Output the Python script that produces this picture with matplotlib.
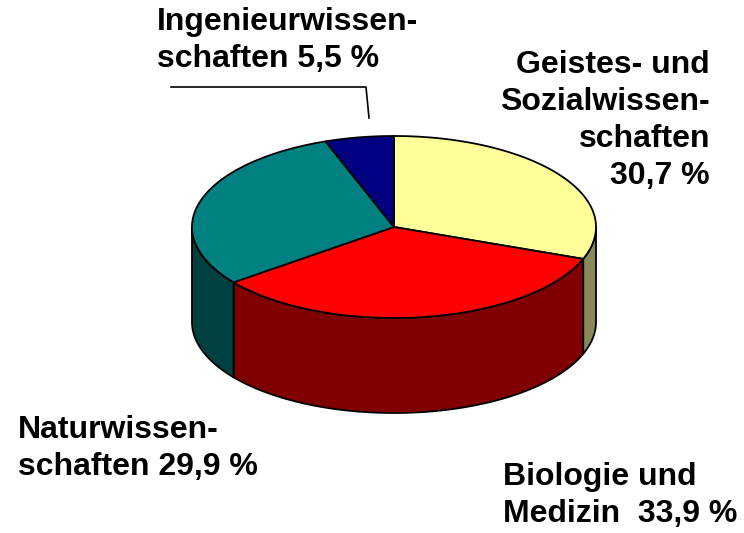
import numpy as np
import matplotlib.pyplot as plt
from matplotlib.patches import Polygon

labels = ["Geistes- und\nSozialwissen-\nschaften\n30,7 %",
          "Biologie und\nMedizin  33,9 %",
          "Naturwissen-\nschaften 29,9 %",
          "Ingenieurwissen-\nschaften 5,5 %"]
shares = [30.7, 33.9, 29.9, 5.5]
top_colors = ["#FFFF99", "#FF0000", "#008080", "#000080"]
side_colors = ["#888858", "#800000", "#004040", "#000040"]

plt.rcParams['font.family'] = ['Liberation Sans', 'DejaVu Sans']

fig = plt.figure(figsize=(7.44, 5.33), dpi=100)
ax = fig.add_axes([0, 0, 1, 1])
ax.set_xlim(0, 744)
ax.set_ylim(533, 0)
ax.axis('off')

# ellipse geometry in pixels
cx, cy, rx, ry, depth = 394, 227, 202, 91, 95


def pt(t, dy=0):
    t = np.radians(t)
    return cx + rx * np.cos(t), cy - ry * np.sin(t) + dy


# slice boundaries, clockwise from 12 o'clock
shares_arr = np.array(shares)
bounds = 90 - 360 * np.concatenate([[0], np.cumsum(shares_arr) / shares_arr.sum()])

# side walls (front half: t in [-180, 0])
for i in range(len(shares)):
    t0, t1 = bounds[i], bounds[i + 1]
    a = max(min(t0, t1), -180)
    b = min(max(t0, t1), 0)
    if a >= b:
        continue
    ts = np.linspace(a, b, 80)
    top = [pt(t) for t in ts]
    bot = [pt(t, depth) for t in ts[::-1]]
    ax.add_patch(Polygon(top + bot, closed=True, fc=side_colors[i],
                         ec='black', lw=1.3, joinstyle='round'))

# top faces
for i in range(len(shares)):
    ts = np.linspace(bounds[i], bounds[i + 1], 120)
    verts = [(cx, cy)] + [pt(t) for t in ts]
    ax.add_patch(Polygon(verts, closed=True, fc=top_colors[i],
                         ec='black', lw=1.3, joinstyle='round'))

fs = 23
ls = 1.3
ax.text(710, 50, labels[0], ha='right', va='top', fontsize=fs,
        fontweight='bold', linespacing=ls)
ax.text(503, 462, labels[1], ha='left', va='top', fontsize=fs,
        fontweight='bold', linespacing=ls)
ax.text(18, 415, labels[2], ha='left', va='top', fontsize=fs,
        fontweight='bold', linespacing=ls)
ax.text(157, 7, labels[3], ha='left', va='top', fontsize=fs,
        fontweight='bold', linespacing=ls)

# leader line for the small slice
ax.plot([171, 366, 369], [87, 87, 118], color='black', lw=1.2)

fig.savefig('out.png', dpi=100)
